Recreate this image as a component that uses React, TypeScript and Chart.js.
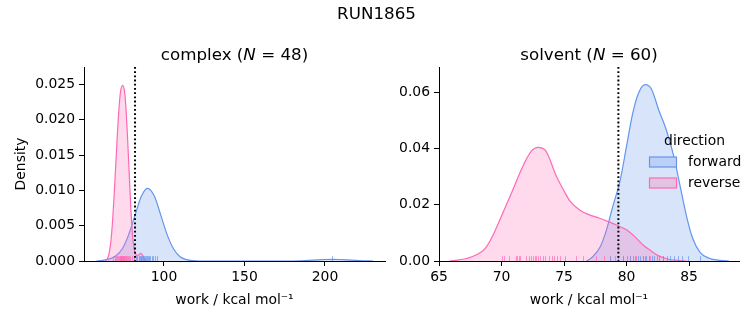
import React, { useEffect, useRef } from 'react';
import { Chart, registerables } from 'chart.js';

Chart.register(...registerables);

const FONT = '"DejaVu Sans", Verdana, sans-serif';
const BLUE = 'rgb(100,149,237)';
const PINK = 'rgb(255,105,180)';
const BLUE_FILL = 'rgba(100,149,237,0.25)';
const PINK_FILL = 'rgba(255,105,180,0.25)';
const BLUE_RUG = 'rgba(100,149,237,0.7)';
const PINK_RUG = 'rgba(255,105,180,0.7)';

// ---------------- data: complex ----------------
const complexForwardX = [58, 62, 66, 70, 74, 78, 82, 86, 89.7, 94, 98, 102, 106, 110, 114, 118, 122, 180, 185, 190, 195, 200, 204.5, 209, 214, 219, 224, 230];
const complexForwardY = [0, 0.0001, 0.0003, 0.0007, 0.0017, 0.0037, 0.0065, 0.0092, 0.0103, 0.0092, 0.0065, 0.0037, 0.0017, 0.0006, 0.0002, 0.00005, 0, 0, 0.00003, 0.00008, 0.00015, 0.00021, 0.00023, 0.00021, 0.00015, 0.00008, 0.00003, 0];
const complexReverseX = [63.5, 65, 66, 67, 68, 69, 70, 71, 72, 73, 74.3, 75.5, 76.5, 77.5, 78.5, 79.5, 80.5, 81.5, 82.5, 83.5, 84.5, 85.5, 86.5, 87.5, 88.5];
const complexReverseY = [0, 0.0004, 0.0012, 0.0028, 0.0055, 0.0092, 0.0135, 0.0178, 0.0215, 0.024, 0.0249, 0.024, 0.0212, 0.0168, 0.0118, 0.007, 0.0036, 0.0016, 0.0009, 0.0008, 0.0009, 0.0011, 0.0009, 0.0004, 0];
const complexForwardRug = [82.5, 83.4, 84.2, 85.0, 85.6, 86.3, 87.0, 87.6, 88.2, 88.8, 89.5, 90.1, 90.8, 91.5, 92.3, 93.2, 94.3, 95.4, 204.3];
const complexReverseRug = [68.6, 69.5, 70.2, 70.9, 71.5, 72.0, 72.4, 72.8, 73.1, 73.5, 73.8, 74.1, 74.4, 74.7, 75.0, 75.3, 75.7, 76.1, 76.5, 77.0, 77.6, 78.3, 79.1, 80.0, 81.4, 86.0];
const complexMarker = 82.0;
const complexXTicks = [100, 150, 200];
const complexYTicks = [0, 0.005, 0.01, 0.015, 0.02, 0.025];

// ---------------- data: solvent ----------------
const solventForwardX = [76.8, 77.3, 77.9, 78.4, 78.9, 79.5, 80.0, 80.5, 81.0, 81.5, 82.0, 82.6, 83.2, 83.8, 84.3, 84.8, 85.3, 85.9, 86.6, 87.5, 88.2];
const solventForwardY = [0, 0.0015, 0.0051, 0.0111, 0.0194, 0.0289, 0.0408, 0.0527, 0.0602, 0.0628, 0.0612, 0.0535, 0.0465, 0.037, 0.0265, 0.016, 0.008, 0.003, 0.001, 0.0002, 0];
const solventReverseX = [65.8, 66.5, 67.2, 68.0, 68.7, 69.3, 70.0, 70.8, 71.7, 72.4, 72.9, 73.5, 74.4, 75.0, 75.5, 76.3, 77.0, 77.8, 78.5, 79.2, 80.0, 80.7, 81.3, 82.0, 82.5, 83.2, 84.0, 84.8];
const solventReverseY = [0, 0.0003, 0.0009, 0.0022, 0.0045, 0.009, 0.016, 0.0242, 0.0337, 0.0392, 0.0405, 0.0395, 0.0301, 0.025, 0.0212, 0.018, 0.0165, 0.0153, 0.0141, 0.0128, 0.0111, 0.0085, 0.0058, 0.0035, 0.002, 0.0008, 0.0002, 0];
const solventForwardRug = [78.7, 79.3, 79.7, 80.0, 80.3, 80.5, 80.7, 80.9, 81.1, 81.3, 81.5, 81.6, 81.8, 82.0, 82.2, 82.4, 82.6, 82.9, 83.2, 83.5, 83.8, 84.1, 84.4, 84.9, 85.9];
const solventReverseRug = [70.07, 70.18, 70.6, 71.14, 71.24, 71.4, 71.51, 71.99, 72.2, 72.39, 72.5, 72.66, 72.8, 72.92, 73.1, 73.32, 73.5, 73.8, 74.0, 74.18, 74.4, 74.66, 75.06, 75.99, 76.52, 77.59, 78.2, 78.66, 79.1, 79.72, 80.3, 80.79, 81.3, 81.86, 82.92];
const solventMarker = 79.35;
const solventXTicks = [65, 70, 75, 80, 85];
const solventYTicks = [0, 0.02, 0.04, 0.06];

const legendTitle = 'direction';
const legendLabels = ['forward', 'reverse'];

const zip = (xs: number[], ys: number[]) => xs.map((x, i) => ({ x, y: ys[i] }));

const rugPlugin = {
  id: 'rug',
  afterDatasetsDraw(chart: any, _a: any, opts: any) {
    const { ctx, chartArea, scales } = chart;
    const h = (chartArea.bottom - chartArea.top) * 0.025;
    ctx.save();
    ctx.beginPath();
    ctx.rect(chartArea.left, chartArea.top, chartArea.right - chartArea.left, chartArea.bottom - chartArea.top);
    ctx.clip();
    for (const s of opts.series || []) {
      ctx.strokeStyle = s.color;
      ctx.lineWidth = 1;
      for (const v of s.values) {
        const px = Math.round(scales.x.getPixelForValue(v)) + 0.5;
        ctx.beginPath();
        ctx.moveTo(px, chartArea.bottom);
        ctx.lineTo(px, chartArea.bottom - h);
        ctx.stroke();
      }
    }
    ctx.restore();
  },
};

const vlinePlugin = {
  id: 'vline',
  afterDatasetsDraw(chart: any, _a: any, opts: any) {
    const { ctx, chartArea, scales } = chart;
    const px = scales.x.getPixelForValue(opts.value);
    ctx.save();
    ctx.strokeStyle = '#000';
    ctx.lineWidth = 2;
    ctx.setLineDash([1.8, 2.4]);
    ctx.beginPath();
    ctx.moveTo(px, chartArea.top);
    ctx.lineTo(px, chartArea.bottom);
    ctx.stroke();
    ctx.restore();
  },
};

const legendPlugin = {
  id: 'kdeLegend',
  afterDraw(chart: any, _a: any, opts: any) {
    if (!opts.show) return;
    const { ctx } = chart;
    ctx.save();
    ctx.font = `13.9px ${FONT}`;
    ctx.fillStyle = '#000';
    ctx.textBaseline = 'middle';
    ctx.textAlign = 'center';
    ctx.fillText(legendTitle, 299.5, 141);
    const fills = ['rgb(188,208,245)', 'rgb(226,196,226)'];
    const edges = [BLUE, PINK];
    const ys = [162, 183];
    legendLabels.forEach((lab, i) => {
      ctx.fillStyle = fills[i];
      ctx.fillRect(254.5, ys[i] - 5, 27, 10);
      ctx.strokeStyle = edges[i];
      ctx.lineWidth = 1.2;
      ctx.strokeRect(254.5, ys[i] - 5, 27, 10);
      ctx.fillStyle = '#000';
      ctx.textAlign = 'left';
      ctx.fillText(lab, 293, ys[i]);
    });
    ctx.restore();
  },
};

type Panel = {
  fx: number[]; fy: number[]; rx: number[]; ry: number[];
  fRug: number[]; rRug: number[]; marker: number;
  xMin: number; xMax: number; yMax: number;
  xTicks: number[]; yTicks: number[]; yDec: number;
  yTitle: string; yWidth: number; padRight: number; legend: boolean;
};

function makeConfig(p: Panel): any {
  const tickFont = { family: FONT, size: 13.9 };
  return {
    type: 'line',
    data: {
      datasets: [
        {
          data: zip(p.rx, p.ry), borderColor: PINK, backgroundColor: PINK_FILL, fill: 'origin',
          borderWidth: 1.2, pointRadius: 0, cubicInterpolationMode: 'monotone',
        },
        {
          data: zip(p.fx, p.fy), borderColor: BLUE, backgroundColor: BLUE_FILL, fill: 'origin',
          borderWidth: 1.2, pointRadius: 0, cubicInterpolationMode: 'monotone',
        },
      ],
    },
    options: {
      animation: false,
      responsive: false,
      maintainAspectRatio: false,
      events: [],
      layout: { padding: { top: 67, left: 0, right: p.padRight, bottom: 0 } },
      plugins: {
        legend: { display: false },
        title: { display: false },
        tooltip: { enabled: false },
        rug: { series: [{ values: p.rRug, color: PINK_RUG }, { values: p.fRug, color: BLUE_RUG }] },
        vline: { value: p.marker },
        kdeLegend: { show: p.legend },
      },
      scales: {
        x: {
          type: 'linear', min: p.xMin, max: p.xMax,
          afterBuildTicks: (s: any) => { s.ticks = p.xTicks.map((v) => ({ value: v })); },
          afterFit: (s: any) => { s.height = 64; },
          grid: { display: true, drawOnChartArea: false, drawTicks: true, tickLength: 5, color: '#000', lineWidth: 1 },
          border: { display: true, color: '#000', width: 1 },
          ticks: { font: tickFont, color: '#000', padding: 3, maxRotation: 0, autoSkip: false, callback: (v: any) => String(v) },
          title: { display: true, text: 'work / kcal mol⁻¹', font: tickFont, color: '#000', padding: { top: 0, bottom: 16.7 } },
        },
        y: {
          type: 'linear', min: 0, max: p.yMax,
          afterBuildTicks: (s: any) => { s.ticks = p.yTicks.map((v) => ({ value: v })); },
          afterFit: (s: any) => { s.width = p.yWidth; },
          grid: { display: true, drawOnChartArea: false, drawTicks: true, tickLength: 5, color: '#000', lineWidth: 1 },
          border: { display: true, color: '#000', width: 1 },
          ticks: { font: tickFont, color: '#000', padding: 4, autoSkip: false, callback: (v: any) => Number(v).toFixed(p.yDec) },
          title: { display: p.yTitle !== '', text: p.yTitle, font: tickFont, color: '#000', padding: { top: 13.4, bottom: 0 } },
        },
      },
    },
    plugins: [rugPlugin, vlinePlugin, legendPlugin],
  };
}

function ChartCanvas({ panel, left, width }: { panel: Panel; left: number; width: number }) {
  const ref = useRef<HTMLCanvasElement>(null);
  useEffect(() => {
    if (!ref.current) return;
    const chart = new Chart(ref.current, makeConfig(panel));
    return () => chart.destroy();
  }, []);
  return (
    <canvas
      ref={ref}
      width={width}
      height={325}
      style={{ position: 'absolute', left, top: 0, width, height: 325 }}
    />
  );
}

const complexPanel: Panel = {
  fx: complexForwardX, fy: complexForwardY, rx: complexReverseX, ry: complexReverseY,
  fRug: complexForwardRug, rRug: complexReverseRug, marker: complexMarker,
  xMin: 50.3, xMax: 237.3, yMax: 0.02749, xTicks: complexXTicks, yTicks: complexYTicks, yDec: 3,
  yTitle: 'Density', yWidth: 84, padRight: 10, legend: false,
};

const solventPanel: Panel = {
  fx: solventForwardX, fy: solventForwardY, rx: solventReverseX, ry: solventReverseY,
  fRug: solventForwardRug, rRug: solventReverseRug, marker: solventMarker,
  xMin: 65, xMax: 89, yMax: 0.0691, xTicks: solventXTicks, yTicks: solventYTicks, yDec: 2,
  yTitle: '', yWidth: 44, padRight: 14, legend: true,
};

export default function App() {
  const titleStyle: React.CSSProperties = {
    position: 'absolute', fontFamily: FONT, fontSize: '16.7px', lineHeight: '20px',
    textAlign: 'center', color: '#000', whiteSpace: 'nowrap',
  };
  return (
    <div style={{ position: 'absolute', left: 0, top: 0, width: 753, height: 325, background: '#fff', overflow: 'hidden' }}>
      <ChartCanvas panel={complexPanel} left={0} width={395} />
      <ChartCanvas panel={solventPanel} left={395} width={358} />
      <div style={{ ...titleStyle, left: 0, top: 3, width: 753 }}>RUN1865</div>
      <div style={{ ...titleStyle, left: 84, top: 44, width: 301 }}>complex (<i>N</i> = 48)</div>
      <div style={{ ...titleStyle, left: 439, top: 44, width: 300 }}>solvent (<i>N</i> = 60)</div>
    </div>
  );
}
